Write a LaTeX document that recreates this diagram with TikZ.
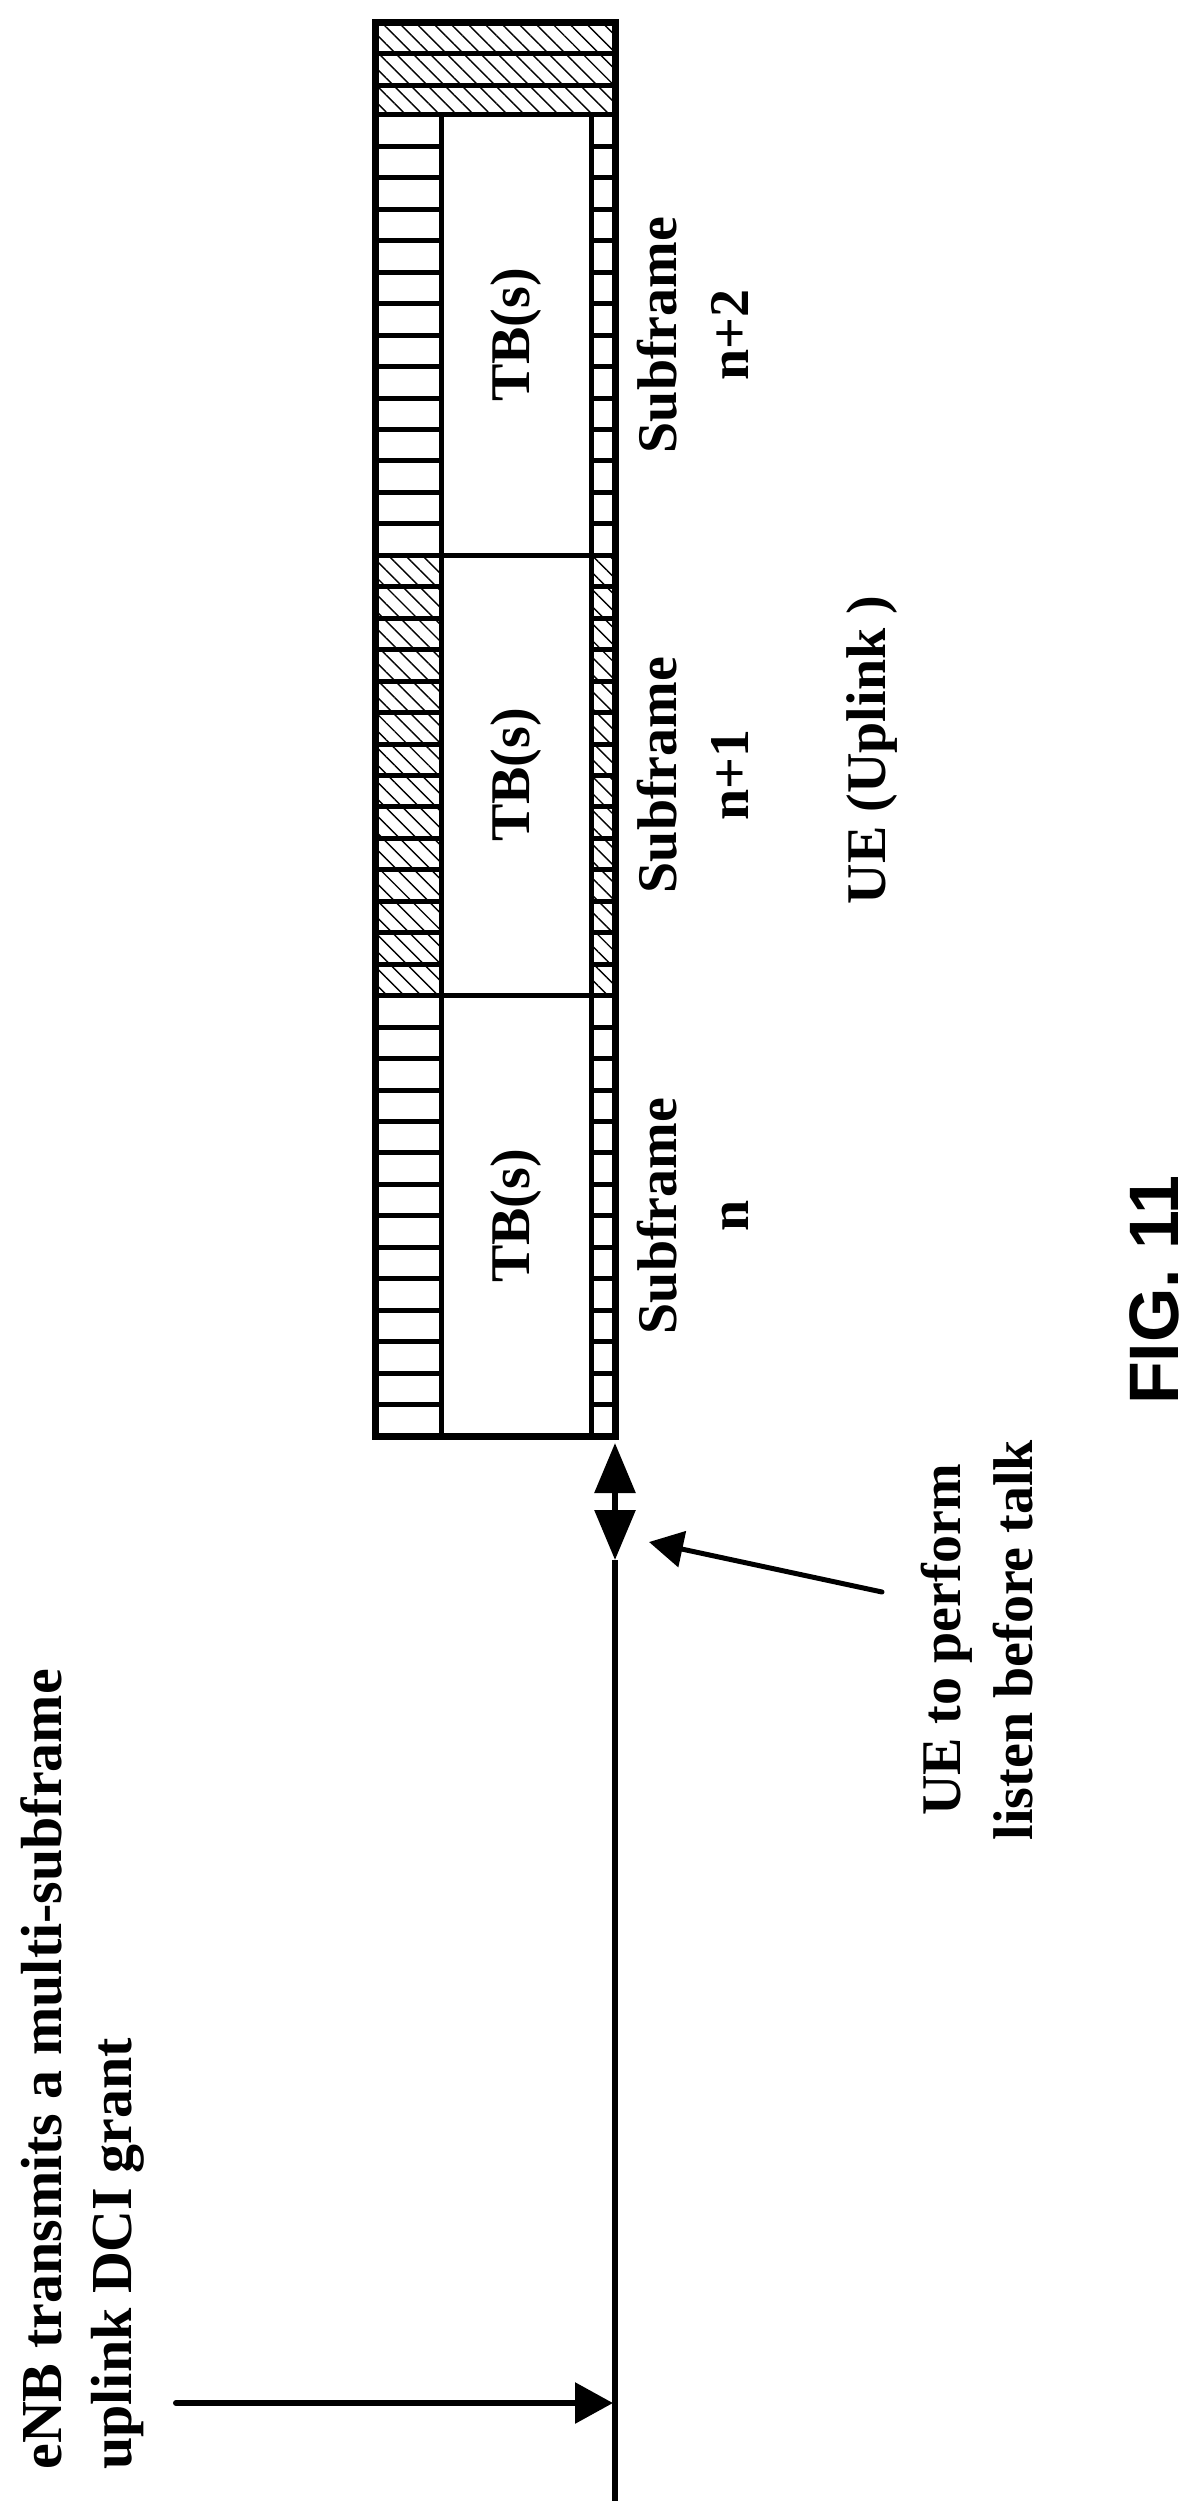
\documentclass[tikz,border=0pt]{standalone}
\usepackage{fontspec}
\setmainfont{Liberation Serif}
\newfontfamily\figfont{Liberation Sans}
\usetikzlibrary{arrows.meta,patterns.meta}
\begin{document}
\begin{tikzpicture}[x=0.5pt,y=-0.5pt,
  lbl/.style={font=\bfseries\fontsize{28}{36}\selectfont, rotate=90, align=center, inner sep=0pt},
  hatchfill/.style={pattern={Lines[angle=-45,distance=6pt,line width=0.7pt]}},
  outerline/.style={line width=3.5pt},
  innerline/.style={line width=2.5pt},
  axis/.style={line width=3pt}]
\useasboundingbox (0,0) rectangle (1201,2509);
\def\rh{31.452}
% hatched areas
\fill[hatchfill] (375,23) rectangle (615,115);
\fill[hatchfill] (375,555.3) rectangle (441,995.7);
\fill[hatchfill] (591,555.3) rectangle (615,995.7);
% row separators in side columns
\foreach \k in {1,...,41}{
  \draw[innerline] (375,115+\k*\rh) -- (441,115+\k*\rh);
  \draw[innerline] (591,115+\k*\rh) -- (615,115+\k*\rh);
}
% full width lines
\foreach \yy in {54,86,115,555.3,995.7}{
  \draw[innerline] (375,\yy) -- (615,\yy);
}
\draw[innerline] (441,115) -- (441,1436);
\draw[innerline] (591,115) -- (591,1436);
\draw[outerline] (375,23) rectangle (615,1436);
% labels
\node[lbl] (tb2) at (516,335) {TB(s)};
\node[lbl] (tb1) at (516,775) {TB(s)};
\node[lbl] (tb0) at (516,1216) {TB(s)};
\node[lbl] (sf2) at (693,335) {Subframe\\n+2};
\node[lbl] (sf1) at (693,775) {Subframe\\n+1};
\node[lbl] (sf0) at (693,1216) {Subframe\\n};
\node[lbl] (ue) at (872,750) {UE (Uplink )};
\node[lbl] (lbt) at (977,1640) {UE to perform\\listen before talk};
\node[lbl, font=\bfseries\fontsize{29}{35}\selectfont, align=left, anchor=north west] (enb) at (20,2470) {eNB transmits a multi-subframe\\uplink DCI grant};
\node[font=\figfont\bfseries\fontsize{35}{40}\selectfont, rotate=90, inner sep=0pt] (fig) at (1154,1290) {FIG. 11};
% time axis and arrows
\coordinate (lbttop) at (615,1443);
\coordinate (lbtbot) at (615,1560);
\coordinate (axend) at (615,2501);
\coordinate (dcitail) at (176,2403);
\coordinate (dcitip) at (613,2403);
\coordinate (ptail) at (882,1592);
\coordinate (ptip) at (649,1542);
\draw[axis, {Triangle[length=25pt,width=20pt]}-{Triangle[length=25pt,width=20pt]}] (lbttop) -- (lbtbot);
\draw[axis] (lbtbot) -- (axend);
\draw[axis, line cap=round, -{Triangle[length=19pt,width=20pt]}] (dcitail) -- (dcitip);
\draw[line width=2.5pt, line cap=round, -{Triangle[length=17pt,width=18pt]}] (ptail) -- (ptip);
\end{tikzpicture}
\end{document}
